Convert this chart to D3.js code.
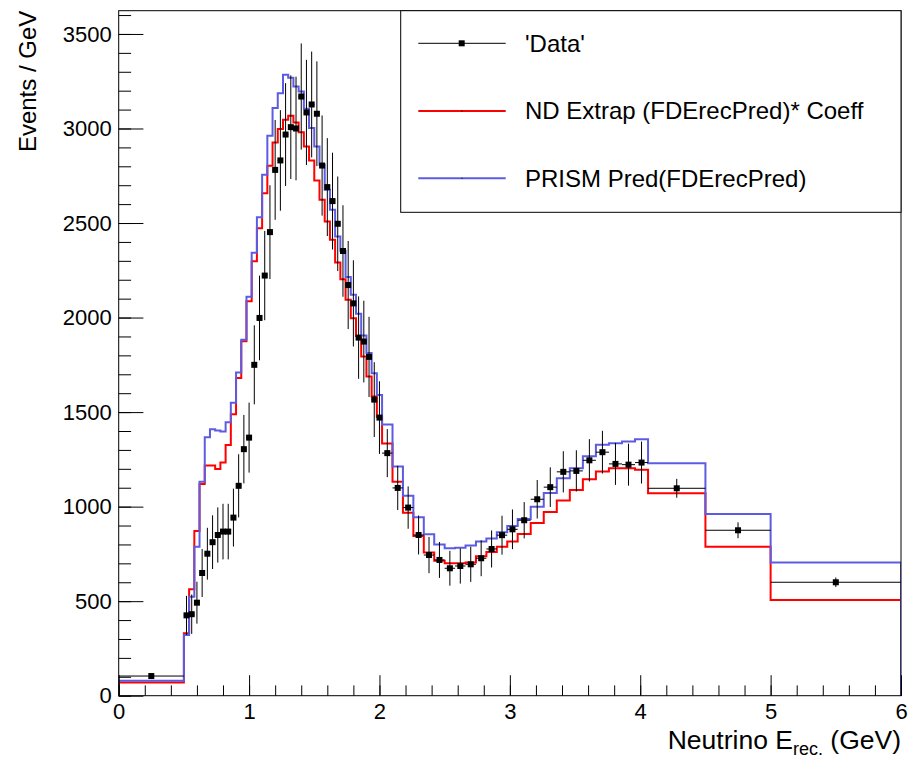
<html>
<head>
<meta charset="utf-8">
<script src="https://d3js.org/d3.v7.min.js"></script>
<style>
  body { margin: 0; background: #fff; }
  text { font-family: "Liberation Sans", Arial, Helvetica, sans-serif; fill: #000; }
  .hist { fill: none; stroke-width: 2px; }
</style>
</head>
<body>
<svg width="908" height="758"></svg>
<script>

// bin edges (GeV), variable width
var binEdges = [0, 0.5,
  0.54, 0.58, 0.62, 0.66, 0.70, 0.74, 0.78, 0.82, 0.86, 0.90,
  0.94, 0.98, 1.02, 1.06, 1.10, 1.14, 1.18, 1.22, 1.26, 1.30,
  1.34, 1.38, 1.42, 1.46, 1.50, 1.54, 1.58, 1.62, 1.66, 1.70,
  1.74, 1.78, 1.82, 1.86, 1.90, 1.94, 1.98, 2.02,
  2.10, 2.18, 2.26, 2.34, 2.42, 2.50, 2.58, 2.66, 2.74, 2.82, 2.90, 2.98, 3.06,
  3.16, 3.26, 3.36, 3.46, 3.56, 3.66, 3.76, 3.86, 3.96, 4.06,
  4.5, 5, 6];

// 'Data' (events / GeV) and its errors
var dataValues = [104,
  425, 431, 492, 649, 751, 812, 850, 868, 868, 942,
  1110, 1304, 1365, 1750, 1998, 2222, 2452, 2781, 2831, 2968,
  3007, 3000, 3169, 3085, 3127, 3078, 2804, 2690, 2616, 2496,
  2352, 2172, 2075, 1894, 1873, 1792, 1566, 1471,
  1283, 1099, 995, 850, 744, 718, 674, 686, 695, 727, 776, 849, 880,
  928, 1039, 1103, 1184, 1189, 1245, 1288, 1226, 1222, 1233,
  1097, 875, 600];

var dataErrors = [14,
  103, 104, 111, 127, 137, 142, 146, 147, 147, 153,
  167, 181, 185, 209, 224, 236, 248, 264, 266, 272,
  274, 274, 281, 278, 280, 277, 265, 259, 256, 250,
  242, 233, 228, 218, 216, 212, 198, 192,
  127, 117, 112, 103, 96, 95, 92, 93, 93, 95, 98, 103, 105,
  96, 102, 105, 109, 109, 112, 113, 111, 111, 111,
  50, 42, 25];

// ND Extrap (FDErecPred)* Coeff
var ndExtrap = [70,
  330, 563, 871, 1120, 1217, 1217, 1199, 1233, 1326, 1489,
  1680, 1875, 2086, 2298, 2473, 2658, 2803, 2926, 2997, 3046,
  3067, 3032, 2980, 2905, 2831, 2725, 2623, 2508, 2411, 2291,
  2203, 2094, 1997, 1903, 1794, 1688, 1582, 1476,
  1334, 1132, 968, 845, 757, 714, 700, 700, 704, 737, 760, 788, 815,
  855, 913, 972, 1033, 1088, 1145, 1186, 1203, 1203, 1195,
  1071, 788, 506];

// PRISM Pred(FDErecPred)
var prismPred = [79,
  321, 524, 788, 1132, 1367, 1409, 1402, 1397, 1446, 1550,
  1710, 1882, 2110, 2343, 2531, 2755, 2961, 3108, 3187, 3284,
  3268, 3222, 3196, 3105, 3002, 2905, 2808, 2676, 2570, 2429,
  2353, 2214, 2120, 2020, 1905, 1812, 1706, 1591,
  1435, 1212, 1058, 944, 854, 800, 780, 782, 795, 815, 832, 865, 898,
  935, 1000, 1072, 1150, 1203, 1266, 1327, 1335, 1344, 1357,
  1230, 961, 704];

var xTicks = [0, 1, 2, 3, 4, 5, 6];
var yTicks = [0, 500, 1000, 1500, 2000, 2500, 3000, 3500];

var legendLabels = ["'Data'", "ND Extrap (FDErecPred)* Coeff", "PRISM Pred(FDErecPred)"];

var svg = d3.select("svg");

// frame position (px)
var fL = 118.7, fR = 901, fT = 10.7, fB = 695.7;

var x = d3.scaleLinear().domain([0, 6]).range([fL, fR]);
var y = d3.scaleLinear().domain([0, 3623]).range([fB, fT]);

svg.append("clipPath").attr("id", "frameClip")
  .append("rect")
  .attr("x", fL).attr("y", fT)
  .attr("width", fR - fL).attr("height", fB - fT);

// step outline, ROOT "HIST" style
function stepPath(vals) {
  var p = d3.path();
  p.moveTo(x(binEdges[0]), y(0));
  vals.forEach(function(v, i) {
    p.lineTo(x(binEdges[i]), y(v));
    p.lineTo(x(binEdges[i + 1]), y(v));
  });
  p.lineTo(x(binEdges[binEdges.length - 1]), y(0));
  return p.toString();
}

var plot = svg.append("g").attr("clip-path", "url(#frameClip)");

plot.append("path").attr("class", "hist")
  .attr("d", stepPath(ndExtrap))
  .attr("stroke", "#ff0000");

plot.append("path").attr("class", "hist")
  .attr("d", stepPath(prismPred))
  .attr("stroke", "#5c5ce2");

// data points with error bars
var bins = dataValues.map(function(v, i) {
  return { lo: binEdges[i], hi: binEdges[i + 1], v: v, e: dataErrors[i] };
});

var pts = plot.append("g").selectAll("g")
  .data(bins)
  .enter().append("g");

pts.append("line")
  .attr("x1", function(d) { return x(d.lo); })
  .attr("x2", function(d) { return x(d.hi); })
  .attr("y1", function(d) { return y(d.v); })
  .attr("y2", function(d) { return y(d.v); })
  .attr("stroke", "#000").attr("stroke-width", 1);

pts.append("line")
  .attr("x1", function(d) { return x((d.lo + d.hi) / 2); })
  .attr("x2", function(d) { return x((d.lo + d.hi) / 2); })
  .attr("y1", function(d) { return y(d.v - d.e); })
  .attr("y2", function(d) { return y(d.v + d.e); })
  .attr("stroke", "#000").attr("stroke-width", 1);

pts.append("rect")
  .attr("x", function(d) { return x((d.lo + d.hi) / 2) - 3; })
  .attr("y", function(d) { return y(d.v) - 3; })
  .attr("width", 6).attr("height", 6)
  .attr("fill", "#000");

// axes, ticks pointing inward
var fmt = d3.format("d");
var yAxis = svg.append("g").attr("transform", "translate(" + fL + ",0)")
  .call(d3.axisLeft(y).tickValues(yTicks).tickFormat(fmt)
    .tickSizeInner(-24.7).tickSizeOuter(0).tickPadding(7));
var yMinor = svg.append("g").attr("transform", "translate(" + fL + ",0)")
  .call(d3.axisLeft(y).tickValues(d3.range(0, 3601, 100)).tickSizeInner(-12.4).tickSizeOuter(0).tickFormat(""));

var xAxis = svg.append("g").attr("transform", "translate(0," + fB + ")")
  .call(d3.axisBottom(x).tickValues(xTicks).tickFormat(fmt)
    .tickSizeInner(-20.5).tickSizeOuter(0).tickPadding(8));
var xMinor = svg.append("g").attr("transform", "translate(0," + fB + ")")
  .call(d3.axisBottom(x).tickValues(d3.range(0, 6.01, 0.2)).tickSizeInner(-10.3).tickSizeOuter(0).tickFormat(""));

[yAxis, yMinor, xAxis, xMinor].forEach(function(a) {
  a.select(".domain").remove();
  a.selectAll("line").attr("stroke", "#000");
  a.selectAll("text").style("font-size", "22px").attr("fill", "#000");
});

// frame
svg.append("rect")
  .attr("x", fL).attr("y", fT)
  .attr("width", fR - fL).attr("height", fB - fT)
  .attr("fill", "none").attr("stroke", "#000").attr("stroke-width", 1);

// axis titles
var xt = svg.append("text")
  .attr("x", fR).attr("y", 749)
  .attr("text-anchor", "end")
  .style("font-size", "26.5px");
xt.append("tspan").text("Neutrino E");
xt.append("tspan").attr("dy", 6).style("font-size", "18px").text("rec.");
xt.append("tspan").attr("dy", -6).text(" (GeV)");

svg.append("text")
  .attr("transform", "translate(36," + fT + ") rotate(-90)")
  .attr("text-anchor", "end")
  .style("font-size", "24px")
  .text("Events / GeV");

// legend
var leg = svg.append("g");
leg.append("rect")
  .attr("x", 400.7).attr("y", fT)
  .attr("width", fR - 400.7).attr("height", 212.3 - fT)
  .attr("fill", "#fff").attr("stroke", "#000").attr("stroke-width", 1);

var legY = [43.3, 111, 178.3];
var legColors = ["#000", "#ff0000", "#5c5ce2"];
legendLabels.forEach(function(lbl, i) {
  leg.append("line")
    .attr("x1", 418.3).attr("x2", 505.7)
    .attr("y1", legY[i]).attr("y2", legY[i])
    .attr("stroke", legColors[i])
    .attr("stroke-width", i == 0 ? 1 : 2);
  if (i == 0) {
    leg.append("rect").attr("x", 458.7).attr("y", legY[i] - 3)
      .attr("width", 6).attr("height", 6).attr("fill", "#000");
  } else {
    leg.append("rect").attr("x", 461.5).attr("y", legY[i] - 0.5)
      .attr("width", 1).attr("height", 1).attr("fill", "#000");
  }
  leg.append("text")
    .attr("x", 525).attr("y", legY[i])
    .attr("dy", "0.35em")
    .style("font-size", "24px")
    .text(lbl);
});

</script>
</body>
</html>
